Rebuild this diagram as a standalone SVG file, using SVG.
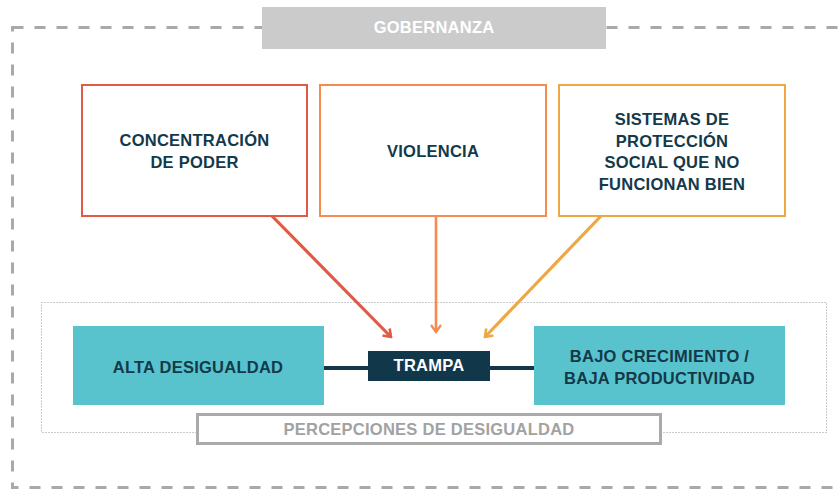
<svg xmlns="http://www.w3.org/2000/svg" width="838" height="491" viewBox="0 0 838 491">
<style>
text{font-family:"Liberation Sans",Arial,sans-serif;font-weight:bold;font-size:16.5px;text-anchor:middle;letter-spacing:0.25px}
.dark{fill:#13394b}
.white{fill:#ffffff}
.gray{fill:#a2a2a2}
.cause{fill:#ffffff;stroke-width:2}
.teal{fill:#59c3cd}
</style>
<defs>
<marker id="ar-red" viewBox="0 0 12 12" refX="10" refY="6" markerWidth="12" markerHeight="12" markerUnits="userSpaceOnUse" orient="auto">
<path d="M3,1 L10,6 L3,11" fill="none" stroke="#e05a45" stroke-width="2.6"/>
</marker>
<marker id="ar-or" viewBox="0 0 12 12" refX="10" refY="6" markerWidth="12" markerHeight="12" markerUnits="userSpaceOnUse" orient="auto">
<path d="M3,1 L10,6 L3,11" fill="none" stroke="#f58b4c" stroke-width="2.2"/>
</marker>
<marker id="ar-ye" viewBox="0 0 12 12" refX="10" refY="6" markerWidth="12" markerHeight="12" markerUnits="userSpaceOnUse" orient="auto">
<path d="M3,1 L10,6 L3,11" fill="none" stroke="#eda843" stroke-width="2.6"/>
</marker>
</defs>
<rect width="838" height="491" fill="#ffffff"/>
<g id="gobernanza-frame">
<rect x="12.5" y="27.5" width="840" height="460" fill="none" stroke="#a9a9a9" stroke-width="3" stroke-dasharray="11 11"/>
</g>
<g id="gobernanza">
<rect x="262" y="7" width="344" height="42" fill="#cbcbcb"/>
<text x="434" y="33" class="white">GOBERNANZA</text>
</g>
<g id="percepciones-frame">
<rect x="41.5" y="302.5" width="785" height="130" fill="none" stroke="#8e99a3" stroke-width="1" stroke-dasharray="1 2"/>
</g>
<g id="connectors">
<line x1="324" y1="368" x2="368" y2="368" stroke="#11374a" stroke-width="4"/>
<line x1="490" y1="368" x2="534" y2="368" stroke="#11374a" stroke-width="4"/>
<line x1="272" y1="216" x2="391" y2="337" stroke="#e05a45" stroke-width="3.2" marker-end="url(#ar-red)"/>
<line x1="436" y1="216" x2="436" y2="332" stroke="#f58b4c" stroke-width="2.6" marker-end="url(#ar-or)"/>
<line x1="601" y1="216" x2="485" y2="337" stroke="#eda843" stroke-width="3.2" marker-end="url(#ar-ye)"/>
</g>
<g id="concentracion">
<rect x="82" y="85" width="225" height="131" class="cause" stroke="#e05a45"/>
<text x="194.5" y="146" class="dark">CONCENTRACIÓN</text>
<text x="194.5" y="167.5" class="dark">DE PODER</text>
</g>
<g id="violencia">
<rect x="320" y="85" width="226" height="131" class="cause" stroke="#f58b4c"/>
<text x="433" y="157" class="dark">VIOLENCIA</text>
</g>
<g id="sistemas">
<rect x="559" y="85" width="226" height="131" class="cause" stroke="#eda843"/>
<text x="672" y="125" class="dark">SISTEMAS DE</text>
<text x="672" y="146.5" class="dark">PROTECCIÓN</text>
<text x="672" y="168" class="dark">SOCIAL QUE NO</text>
<text x="672" y="189.5" class="dark">FUNCIONAN BIEN</text>
</g>
<g id="alta-desigualdad">
<rect x="73" y="326" width="251" height="79" class="teal"/>
<text x="198" y="372.5" class="dark">ALTA DESIGUALDAD</text>
</g>
<g id="trampa">
<rect x="368" y="351" width="122" height="30" fill="#11374a"/>
<text x="429" y="371" class="white">TRAMPA</text>
</g>
<g id="bajo-crecimiento">
<rect x="534" y="326" width="251" height="79" class="teal"/>
<text x="659.5" y="361.5" class="dark">BAJO CRECIMIENTO /</text>
<text x="659.5" y="383.5" class="dark">BAJA PRODUCTIVIDAD</text>
</g>
<g id="percepciones">
<rect x="197.5" y="414.5" width="463" height="29" fill="#ffffff" stroke="#aaaaaa" stroke-width="3"/>
<text x="429" y="435" class="gray">PERCEPCIONES DE DESIGUALDAD</text>
</g>
</svg>
